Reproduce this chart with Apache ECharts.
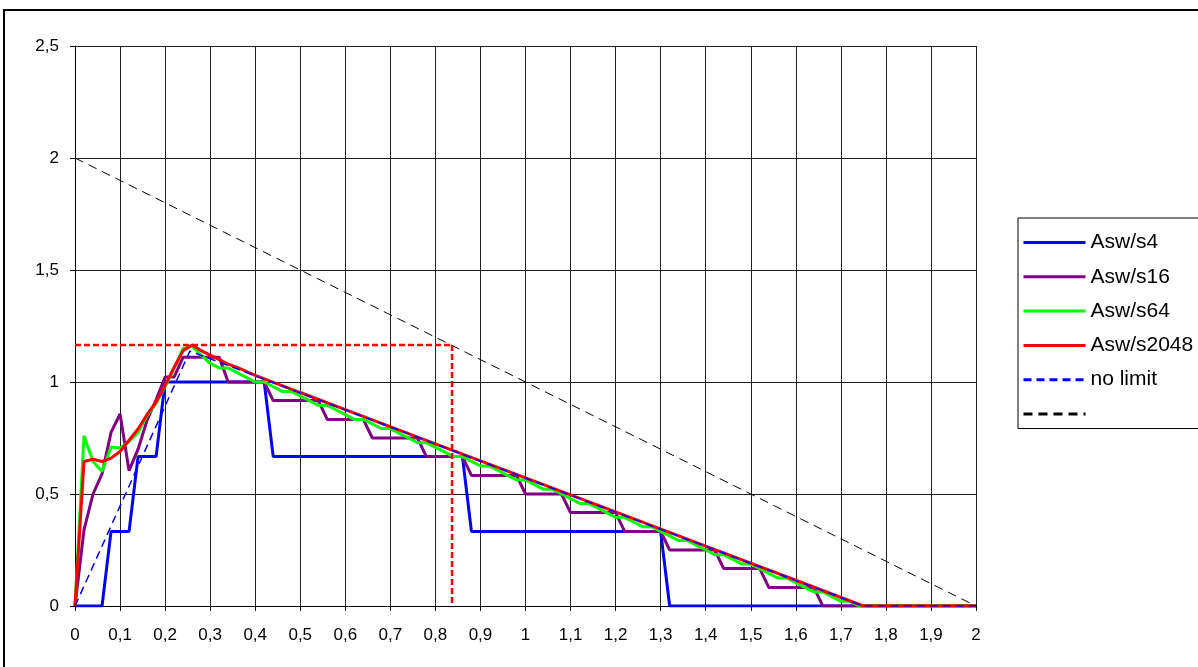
<!DOCTYPE html>
<html>
<head>
<meta charset="utf-8">
<script src="https://cdn.jsdelivr.net/npm/echarts@6/dist/echarts.min.js"></script>
<style>
  html, body { margin: 0; padding: 0; background: #fff; }
  #chart { width: 1198px; height: 667px; }
</style>
</head>
<body>
<div id="chart"></div>
<script>
// [x, y] points
const asw4 = [[0, 0], [0.06, 0], [0.08, 0.333], [0.12, 0.333], [0.14, 0.667], [0.18, 0.667],
  [0.2, 1.0], [0.42, 1.0], [0.44, 0.667], [0.86, 0.667], [0.88, 0.333], [1.3, 0.333],
  [1.32, 0], [2, 0]];

const asw16 = [[0, 0], [0.02, 0.34], [0.04, 0.5], [0.06, 0.59], [0.08, 0.775], [0.1, 0.857],
  [0.12, 0.604], [0.14, 0.7], [0.16, 0.83], [0.18, 0.92], [0.2, 1.022], [0.22, 1.022],
  [0.24, 1.111], [0.32, 1.111], [0.34, 1.0], [0.42, 1.0], [0.44, 0.917], [0.54, 0.917],
  [0.56, 0.833], [0.64, 0.833], [0.66, 0.75], [0.76, 0.75], [0.78, 0.667], [0.86, 0.667],
  [0.88, 0.583], [0.98, 0.583], [1.0, 0.5], [1.08, 0.5], [1.1, 0.417], [1.2, 0.417],
  [1.22, 0.333], [1.3, 0.333], [1.32, 0.25], [1.42, 0.25], [1.44, 0.167], [1.52, 0.167],
  [1.54, 0.083], [1.64, 0.083], [1.66, 0], [2, 0]];

const asw64 = [[0, 0], [0.02, 0.76], [0.04, 0.645], [0.06, 0.6], [0.08, 0.71], [0.1, 0.705],
  [0.12, 0.735], [0.14, 0.775], [0.16, 0.85], [0.18, 0.905], [0.2, 0.98], [0.22, 1.06],
  [0.24, 1.15], [0.26, 1.16], [0.28, 1.12], [0.3, 1.083], [0.32, 1.063], [0.34, 1.063],
  [0.36, 1.042], [0.38, 1.021], [0.4, 1.0], [0.42, 1.0], [0.44, 0.979], [0.46, 0.958],
  [0.48, 0.958], [0.5, 0.938], [0.52, 0.917], [0.54, 0.896], [0.56, 0.896], [0.58, 0.875],
  [0.6, 0.854], [0.62, 0.833], [0.64, 0.833], [0.66, 0.813], [0.68, 0.792], [0.7, 0.792],
  [0.72, 0.771], [0.74, 0.75], [0.76, 0.729], [0.78, 0.729], [0.8, 0.708], [0.82, 0.688],
  [0.84, 0.667], [0.86, 0.667], [0.88, 0.646], [0.9, 0.625], [0.92, 0.625], [0.94, 0.604],
  [0.96, 0.583], [0.98, 0.563], [1.0, 0.563], [1.02, 0.542], [1.04, 0.521], [1.06, 0.521],
  [1.08, 0.5], [1.1, 0.479], [1.12, 0.458], [1.14, 0.458], [1.16, 0.438], [1.18, 0.417],
  [1.2, 0.396], [1.22, 0.396], [1.24, 0.375], [1.26, 0.354], [1.28, 0.354], [1.3, 0.333],
  [1.32, 0.313], [1.34, 0.292], [1.36, 0.292], [1.38, 0.271], [1.4, 0.25], [1.42, 0.229],
  [1.44, 0.229], [1.46, 0.208], [1.48, 0.188], [1.5, 0.188], [1.52, 0.167], [1.54, 0.146],
  [1.56, 0.125], [1.58, 0.125], [1.6, 0.104], [1.62, 0.083], [1.64, 0.063], [1.66, 0.063],
  [1.68, 0.042], [1.7, 0.021], [1.72, 0.021], [1.74, 0], [2, 0]];

const asw2048 = [[0, 0], [0.02, 0.645], [0.04, 0.655], [0.06, 0.645], [0.08, 0.66], [0.1, 0.69],
  [0.12, 0.74], [0.14, 0.79], [0.16, 0.855], [0.18, 0.91], [0.2, 0.985], [0.22, 1.065],
  [0.24, 1.14], [0.26, 1.165], [0.28, 1.14], [0.3, 1.12], [0.32, 1.1], [0.34, 1.08],
  [0.36, 1.065], [0.4, 1.03], [0.5, 0.953], [0.6, 0.877], [0.8, 0.724], [1.0, 0.572],
  [1.2, 0.42], [1.4, 0.267], [1.6, 0.115], [1.75, 0], [2, 0]];

const noLimit = [[0, 0], [0.255, 1.138], [1.75, 0], [2, 0]];
const blackLine = [[0, 2], [2, 0]];
const maxLevel = [[0, 1.165], [0.837, 1.165]];
const maxAt = [[0.837, 1.165], [0.837, 0]];

const legendNames = ['Asw/s4', 'Asw/s16', 'Asw/s64', 'Asw/s2048', 'no limit', ' '];

const comma = v => String(+v.toFixed(1)).replace('.', ',');
const font = 'Liberation Sans, Arial, sans-serif';

function line(name, data, color, width, type) {
  return {
    name: name,
    type: 'line',
    data: data,
    symbol: 'none',
    animation: false,
    lineStyle: { color: color, width: width, type: type || 'solid' },
    itemStyle: { color: color },
  };
}

const chart = echarts.init(document.getElementById('chart'));
chart.setOption({
  animation: false,
  backgroundColor: '#fff',
  grid: { left: 75, right: 222, top: 46, bottom: 61 },
  legend: {
    data: legendNames,
    orient: 'vertical',
    left: 1018,
    top: 218,
    itemWidth: 62,
    itemHeight: 14,
    itemGap: 13.3,
    padding: [14, 60, 4, 4],
    borderColor: '#000',
    borderWidth: 1,
    backgroundColor: '#fff',
    itemStyle: { opacity: 0 },
    lineStyle: { width: 3 },
    textStyle: { fontFamily: font, fontSize: 21, color: '#000' },
  },
  xAxis: {
    type: 'value',
    min: 0,
    max: 2,
    interval: 0.1,
    axisLine: { lineStyle: { color: '#000', width: 1 } },
    axisTick: { show: true, length: 5, lineStyle: { color: '#000' } },
    axisLabel: { formatter: comma, margin: 21, color: '#000', fontFamily: font, fontSize: 17 },
    splitLine: { show: true, lineStyle: { color: '#222', width: 1 } },
  },
  yAxis: {
    type: 'value',
    min: 0,
    max: 2.5,
    interval: 0.5,
    axisLine: { show: true, lineStyle: { color: '#000', width: 1 } },
    axisTick: { show: true, length: 5, lineStyle: { color: '#000' } },
    axisLabel: { formatter: comma, margin: 16, color: '#000', fontFamily: font, fontSize: 17 },
    splitLine: { show: true, lineStyle: { color: '#222', width: 1 } },
  },
  graphic: [{
    type: 'rect',
    shape: { x: 4, y: 10, width: 1300, height: 700 },
    style: { fill: 'none', stroke: '#000', lineWidth: 2 },
    silent: true,
  }],
  series: [
    line('Asw/s4', asw4, '#0000ff', 3),
    line('Asw/s16', asw16, '#800080', 3),
    line('Asw/s64', asw64, '#00ff00', 3),
    line('Asw/s2048', asw2048, '#ff0000', 3),
    line('no limit', noLimit, '#0000ff', 1.5, [8, 5]),
    line(' ', blackLine, '#000000', 1, [9, 6]),
    line('max', maxLevel, '#ff0000', 2.5, [6, 3]),
    line('maxAt', maxAt, '#ff0000', 2.5, [6, 3]),
  ],
});
</script>
</body>
</html>
